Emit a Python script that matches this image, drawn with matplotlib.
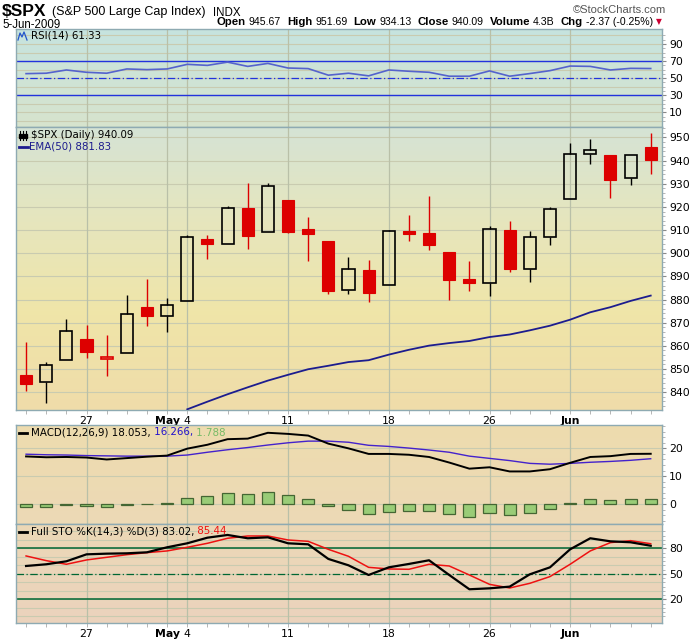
import matplotlib
matplotlib.use('Agg')
import matplotlib.pyplot as plt
import numpy as np
from matplotlib.patches import Rectangle
from matplotlib.colors import LinearSegmentedColormap
from matplotlib.lines import Line2D

# ---------------- data ----------------
dates = ['Apr 22', 'Apr 23', 'Apr 24', 'Apr 27', 'Apr 28', 'Apr 29', 'Apr 30', 'May 1',
         'May 4', 'May 5', 'May 6', 'May 7', 'May 8', 'May 11', 'May 12', 'May 13',
         'May 14', 'May 15', 'May 18', 'May 19', 'May 20', 'May 21', 'May 22', 'May 26',
         'May 27', 'May 28', 'May 29', 'Jun 1', 'Jun 2', 'Jun 3', 'Jun 4', 'Jun 5']
opens = [847.3, 844.6, 853.9, 862.8, 854.5, 856.9, 876.6, 872.7, 879.2, 906.1, 904.0, 919.6,
         909.0, 923.0, 910.5, 905.4, 884.2, 892.8, 886.1, 909.7, 908.6, 900.4, 888.7, 887.0,
         910.0, 893.0, 907.0, 923.3, 942.9, 942.5, 932.5, 945.7]
highs = [861.8, 852.9, 871.8, 868.8, 864.5, 882.1, 888.7, 880.5, 907.9, 907.7, 920.3, 930.2,
         930.2, 923.0, 915.6, 905.4, 898.4, 897.0, 910.0, 916.4, 924.6, 900.4, 896.7, 911.8,
         913.8, 909.5, 920.0, 947.8, 949.4, 942.5, 942.5, 951.7]
lows = [840.6, 835.5, 853.9, 854.7, 847.1, 856.9, 868.5, 866.1, 879.2, 897.3, 904.0, 901.8,
        909.0, 908.7, 896.5, 882.5, 882.5, 878.9, 886.1, 905.2, 901.4, 879.6, 883.8, 881.5,
        891.9, 887.6, 903.6, 923.3, 938.5, 923.9, 929.3, 934.1]
closes = [843.6, 851.9, 866.2, 857.5, 855.2, 873.6, 872.8, 877.5, 907.2, 903.8, 919.5, 907.4,
          929.2, 909.2, 908.4, 883.9, 893.1, 882.9, 909.7, 908.1, 903.5, 888.3, 887.0, 910.3,
          893.1, 906.8, 919.1, 942.9, 944.7, 931.8, 942.5, 940.1]
ema50 = [np.nan] * 8 + [832.6, 835.9, 839.1, 842.1, 845.0, 847.5, 849.9, 851.4, 853.0, 853.8,
                        856.2, 858.3, 860.1, 861.2, 862.1, 863.8, 864.9, 866.7, 868.7, 871.3,
                        874.5, 876.7, 879.4, 881.7]
rsi = [55.3, 55.8, 59.6, 56.9, 55.8, 60.8, 60.0, 60.8, 66.2, 65.0, 68.8, 63.8, 67.3, 61.9,
       61.2, 53.5, 55.8, 52.7, 59.6, 58.1, 56.9, 52.3, 52.3, 58.5, 52.3, 55.4, 58.8, 64.2,
       63.8, 59.6, 61.5, 61.3]
macd = [17.1, 16.8, 16.9, 16.7, 16.0, 16.5, 17.0, 17.4, 19.9, 21.3, 23.3, 23.5, 25.6, 25.2,
        24.6, 21.7, 20.0, 18.0, 18.0, 17.7, 16.9, 14.9, 12.7, 13.2, 11.7, 11.7, 12.5, 14.8,
        16.9, 17.2, 18.0, 18.05]
signal = [17.9, 17.7, 17.6, 17.4, 17.3, 17.2, 17.2, 17.2, 17.6, 18.6, 19.5, 20.3, 21.2, 22.0,
          22.6, 22.6, 22.2, 21.1, 20.7, 20.1, 19.4, 18.6, 17.2, 16.4, 15.6, 14.6, 14.3, 14.6,
          15.0, 15.3, 15.7, 16.27]
hist = [-1.0, -1.2, -0.5, -0.7, -1.2, -0.5, -0.1, 0.3, 2.0, 2.8, 3.8, 3.5, 4.3, 3.1, 1.7,
        -0.8, -2.2, -3.6, -2.9, -2.5, -2.5, -3.6, -4.8, -3.4, -4.1, -3.4, -1.8, 0.4, 1.7,
        1.3, 1.7, 1.79]
sto_k = [59.2, 61.2, 64.7, 72.9, 73.7, 74.1, 75.3, 81.2, 85.9, 92.5, 95.7, 91.8, 92.9, 85.9,
         84.7, 67.5, 60.0, 48.6, 57.6, 61.6, 65.9, 48.6, 31.8, 32.9, 34.9, 49.4, 57.6, 78.8,
         91.8, 88.2, 87.1, 83.0]
sto_d = [71.0, 65.5, 61.2, 66.3, 69.4, 72.5, 74.9, 76.9, 81.2, 85.9, 91.8, 94.5, 94.5, 89.8,
         88.2, 78.8, 70.6, 57.6, 55.7, 55.3, 61.2, 59.2, 48.6, 37.6, 33.3, 38.8, 46.7, 61.2,
         76.9, 86.7, 89.0, 85.4]
xtick_pos = [3, 7, 8, 13, 18, 23, 27]
xtick_labels = ['27', 'May', '4', '11', '18', '26', 'Jun']
price_ticks = [840, 850, 860, 870, 880, 890, 900, 910, 920, 930, 940, 950]
rsi_ticks = [10, 30, 50, 70, 90]
macd_ticks = [0, 10, 20]
sto_ticks = [20, 50, 80]
header_items = [('Open', '945.67'), ('High', '951.69'), ('Low', '934.13'),
                ('Close', '940.09'), ('Volume', '4.3B'), ('Chg', '-2.37 (-0.25%)')]

# ---------------- layout ----------------
W_PX, H_PX = 700, 639
fig = plt.figure(figsize=(7.0, 6.39), dpi=100)
fig.patch.set_facecolor('white')
plt.rcParams['font.family'] = ['DejaVu Sans']

L = 16 / W_PX
WID = 646 / W_PX


def rect(top, bottom):
    return [L, 1 - bottom / H_PX, WID, (bottom - top) / H_PX]


ax_r = fig.add_axes(rect(29, 127))
ax_p = fig.add_axes(rect(127, 410))
ax_m = fig.add_axes(rect(425, 524))
ax_s = fig.add_axes(rect(524, 623))

n = len(closes)
x = np.arange(n)
XL = (-0.5, 31.56)
SPINE = '#8eaab2'
HGRID = '#c9cbb0'
VGRID = '#b9c0a8'


def gradient(ax, colors):
    cmap = LinearSegmentedColormap.from_list('g', colors)
    g = np.linspace(0, 1, 256).reshape(-1, 1)
    ax.imshow(g, cmap=cmap, extent=[0, 1, 0, 1], transform=ax.transAxes,
              aspect='auto', zorder=0, interpolation='bilinear')


def style(ax, ylim, yticks, hgrid, minor):
    ax.set_xlim(*XL)
    ax.set_ylim(*ylim)
    for s in ax.spines.values():
        s.set_color(SPINE)
        s.set_linewidth(1.0)
    ax.yaxis.tick_right()
    ax.set_yticks(yticks)
    ax.set_yticklabels([str(t) for t in yticks])
    ax.set_yticks(minor, minor=True)
    ax.tick_params(axis='y', which='major', length=3, width=0.8, color='#888888',
                   labelsize=7.8, pad=2, labelcolor='black')
    ax.tick_params(axis='y', which='minor', length=2, width=0.6, color='#aaaaaa')
    for h in hgrid:
        ax.axhline(h, color=HGRID, lw=0.8, zorder=1)
    for v in xtick_pos:
        ax.axvline(v, color=VGRID, lw=0.9, zorder=1)
    ax.set_xticks(xtick_pos)
    ax.set_xticks(x, minor=True)
    ax.tick_params(axis='x', which='both', length=3, width=0.6, color='#aaaaaa',
                   labelsize=7.8, pad=1.5)


def xlabels(ax, show):
    if show:
        ax.set_xticklabels(xtick_labels)
        for t in ax.get_xticklabels():
            if t.get_text() in ('May', 'Jun'):
                t.set_fontweight('bold')
    else:
        ax.set_xticklabels([])


# ---------------- RSI ----------------
gradient(ax_r, ['#c6e3df', '#d7e4cd'])
style(ax_r, (-7.2, 107.6), rsi_ticks, range(0, 101, 10), range(0, 101, 5))
xlabels(ax_r, False)
ax_r.axhline(70, color='#2233dd', lw=1.0, zorder=2)
ax_r.axhline(30, color='#2233dd', lw=1.0, zorder=2)
ax_r.axhline(50, color='#2233dd', lw=0.9, ls=(0, (6, 2, 1, 2)), zorder=2)
ax_r.plot(x, rsi, color='#5563cc', lw=1.2, zorder=3)

# ---------------- Price ----------------
gradient(ax_p, ['#d5e3d5', '#e6e6bd', '#f0e5a8', '#efdcaa'])
style(ax_p, (832.3, 954.5), price_ticks, price_ticks, range(834, 955, 2))
xlabels(ax_p, True)
RED = '#dd0000'
bw = 0.6
for i in range(n):
    o, h, l, c = opens[i], highs[i], lows[i], closes[i]
    up_day = i > 0 and c >= closes[i - 1]
    col = 'black' if up_day else RED
    lo_b, hi_b = min(o, c), max(o, c)
    ax_p.plot([i, i], [l, lo_b], color=col, lw=1.0, zorder=3, solid_capstyle='butt')
    ax_p.plot([i, i], [hi_b, h], color=col, lw=1.0, zorder=3, solid_capstyle='butt')
    if c < o:
        ax_p.add_patch(Rectangle((i - bw / 2, lo_b), bw, max(hi_b - lo_b, 0.3),
                                 facecolor=col, edgecolor=col, lw=0.8, zorder=4))
    else:
        ax_p.add_patch(Rectangle((i - bw / 2, lo_b), bw, max(hi_b - lo_b, 0.3),
                                 facecolor='none', edgecolor=col, lw=1.2, zorder=4))
ax_p.plot(x, ema50, color='#1c1c8e', lw=1.3, zorder=3)

# ---------------- MACD ----------------
gradient(ax_m, ['#eedcae', '#ecd9b6'])
style(ax_m, (-7.2, 28.4), macd_ticks, [0, 10, 20], range(-6, 29, 2))
xlabels(ax_m, False)
ax_m.bar(x, hist, width=0.6, color='#99cc77', edgecolor='#446633', lw=0.9, zorder=3)
ax_m.plot(x, signal, color='#4422cc', lw=1.0, zorder=4)
ax_m.plot(x, macd, color='black', lw=1.4, zorder=5)

# ---------------- Full STO ----------------
gradient(ax_s, ['#ecd8b6', '#ebd3bd'])
style(ax_s, (-7.9, 108.6), sto_ticks, range(0, 101, 10), range(0, 101, 5))
xlabels(ax_s, True)
ax_s.axhline(80, color='#006633', lw=1.1, zorder=2)
ax_s.axhline(20, color='#006633', lw=1.1, zorder=2)
ax_s.axhline(50, color='#006633', lw=0.9, ls=(0, (6, 2, 1, 2)), zorder=2)
ax_s.plot(x, sto_d, color='#ee1111', lw=1.1, zorder=3)
ax_s.plot(x, sto_k, color='black', lw=1.6, zorder=4)

# ---------------- texts ----------------
renderer = fig.canvas.get_renderer()


def fx(px):
    return px / W_PX


def fy(py):
    return 1 - py / H_PX


def seq(xpx, ypx, pieces):
    for s, props in pieces:
        t = fig.text(fx(xpx), fy(ypx), s, va='center', ha='left', zorder=10, **props)
        bb = t.get_window_extent(renderer=renderer)
        xpx += bb.width
    return xpx


HF = ['Liberation Sans', 'DejaVu Sans']
fig.text(fx(2), fy(16), '$SPX', fontsize=12.5, fontweight='bold', family=HF, va='baseline')
fig.text(fx(52), fy(15.5), '(S&P 500 Large Cap Index)', fontsize=9.0, family=HF,
         va='baseline')
fig.text(fx(213), fy(15.5), 'INDX', fontsize=8.3, family=HF, va='baseline')
fig.text(fx(666), fy(10), '\u00a9StockCharts.com', fontsize=8, family=HF, color='#555555',
         va='center', ha='right')
fig.text(fx(2), fy(28), '5-Jun-2009', fontsize=8.3, family=HF, va='baseline')

# header values: measure, then right-align the whole row so it ends before the arrow
LABP = dict(fontsize=8.2, fontweight='bold', family=HF)
VALP = dict(fontsize=7.6, family=HF)
tmp = []
for lab, val in header_items:
    t1 = fig.text(0, 0, lab, **LABP)
    t2 = fig.text(0, 0, val, **VALP)
    w1 = t1.get_window_extent(renderer=renderer).width
    w2 = t2.get_window_extent(renderer=renderer).width
    t1.remove()
    t2.remove()
    tmp.append((lab, val, w1, w2))
GAP_IN, GAP_OUT = 3.0, 6.0
total = sum(w1 + GAP_IN + w2 for _, _, w1, w2 in tmp) + GAP_OUT * (len(tmp) - 1)
xp = 653 - total
for lab, val, w1, w2 in tmp:
    fig.text(fx(xp), fy(22), lab, va='center', ha='left', **LABP)
    xp += w1 + GAP_IN
    fig.text(fx(xp), fy(22), val, va='center', ha='left', **VALP)
    xp += w2 + GAP_OUT
fig.text(fx(656), fy(22), '\u25bc', fontsize=5.5, color='#cc0033', family=['DejaVu Sans'],
         va='center')

LF = dict(fontsize=7.4, family=['DejaVu Sans'])
# RSI legend with small icon
ic = [(18, 40), (20, 33), (22, 37), (24, 32), (27, 40)]
fig.add_artist(Line2D([fx(p[0]) for p in ic], [fy(p[1]) for p in ic], color='#2255cc', lw=0.9))
seq(31, 36, [('RSI(14) 61.33', dict(color='black', **LF))])

# price legend
for xx in [20, 23, 26]:
    fig.add_artist(Line2D([fx(xx), fx(xx)], [fy(131), fy(140)], color='black', lw=0.8))
    fig.add_artist(Rectangle((fx(xx - 1), fy(138)), fx(2), 4 / H_PX, color='black'))
seq(31, 135, [('$SPX (Daily) 940.09', dict(color='black', **LF))])
fig.add_artist(Line2D([fx(19), fx(28)], [fy(146.5), fy(146.5)], color='#1c1c8e', lw=2))
seq(29, 146.5, [('EMA(50) 881.83', dict(color='#1c1c8e', **LF))])

# MACD legend
fig.add_artist(Line2D([fx(19), fx(27)], [fy(432.5), fy(432.5)], color='black', lw=2))
seq(31, 432.5, [('MACD(12,26,9) 18.053,', dict(color='black', **LF)),
                (' 16.266,', dict(color='#2211cc', **LF)),
                (' 1.788', dict(color='#77bb66', **LF))])

# STO legend
fig.add_artist(Line2D([fx(19), fx(27)], [fy(531.5), fy(531.5)], color='black', lw=2))
seq(31, 531.5, [('Full STO %K(14,3) %D(3) 83.02,', dict(color='black', **LF)),
                (' 85.44', dict(color='#ee1111', **LF))])

fig.savefig('out.png', dpi=100)
